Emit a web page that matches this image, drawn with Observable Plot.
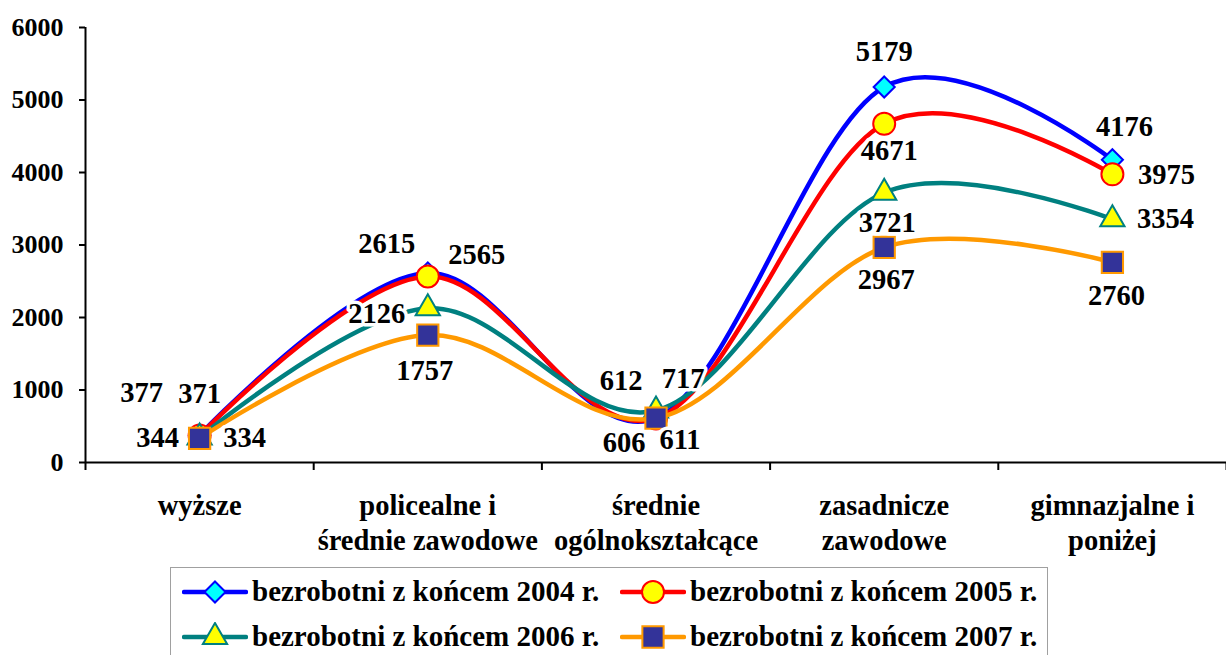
<!DOCTYPE html>
<html>
<head>
<meta charset="utf-8">
<script src="https://cdn.jsdelivr.net/npm/d3@7"></script>
<script src="https://cdn.jsdelivr.net/npm/@observablehq/plot@0.6"></script>
<style>
  body { margin: 0; background: #fff; font-family: 'Liberation Serif', 'Times New Roman', serif; }
  #chart svg { display: block; }
  #chart svg text { font-family: 'Liberation Serif', 'Times New Roman', serif !important; font-weight: bold; }
  #legend {
    margin-left: 170px; margin-top: 7px; width: 878px; height: 100px;
    border: 1.5px solid #a0a0a0; box-sizing: border-box;
    display: grid; grid-template-columns: 438px 438px; grid-auto-rows: 45px;
    padding-left: 11px; padding-top: 1px;
    font-family: 'Liberation Serif', 'Times New Roman', serif;
    font-weight: bold; font-size: 29px; color: #000;
  }
  .item { display: flex; align-items: center; white-space: nowrap; }
  .item svg { margin-right: 4px; }
</style>
</head>
<body>
<div id="chart"></div>
<div id="legend"></div>
<script>
// ---- data ----
const categories = ["wyższe", "policealne i\nśrednie zawodowe", "średnie\nogólnokształcące", "zasadnicze\nzawodowe", "gimnazjalne i\nponiżej"];
const seriesNames = ["bezrobotni z końcem 2004 r.", "bezrobotni z końcem 2005 r.", "bezrobotni z końcem 2006 r.", "bezrobotni z końcem 2007 r."];
const v2004 = [377, 2615, 612, 5179, 4176];
const v2005 = [371, 2565, 606, 4671, 3975];
const v2006 = [344, 2126, 717, 3721, 3354];
const v2007 = [334, 1757, 611, 2967, 2760];
const yTicks = [0, 1000, 2000, 3000, 4000, 5000, 6000];

// ---- styles ----
const values = [v2004, v2005, v2006, v2007];
const styles = [
  {line: "#0000ff", fill: "#00ffff", symbol: "diamond2", r: 9.5},
  {line: "#ff0000", fill: "#ffff00", symbol: "circle", r: 11},
  {line: "#008080", fill: "#ffff00", symbol: "triangle", r: 9},
  {line: "#ff9900", fill: "#333399", symbol: "square", r: 12}
];
// label offsets (px) per series per category
const labelOffsets = [
  [[-58,-42],[-41,-29],[-35,-37],[0,-35],[12,-33]],
  [[0,-42],[49,-22],[-32,24],[5,27],[54,1]],
  [[-42,0],[-51,6],[27,-32],[3,30],[53,0]],
  [[45,0],[-3,36],[24,22],[2,32],[4,33]]
];

const rows = values.map((vals, s) => vals.map((v, i) => ({s, i, v})));
const font = "Liberation Serif";
const boundaries = d3.range(categories.length + 1).map(k => k - 0.5);

const marks = [
  Plot.ruleY([0], {stroke: "#000", strokeWidth: 2}),
  Plot.ruleX([-0.5], {stroke: "#000", strokeWidth: 2}),
  Plot.axisY({ticks: yTicks, tickSize: 6, tickPadding: 16, label: null, strokeWidth: 2,
    tickFormat: d => String(d), fontSize: 26, fontWeight: "bold", fontFamily: font, fill: "#000"}),
  Plot.axisX({ticks: boundaries, tickSize: 8, strokeWidth: 2, tickFormat: () => "", label: null}),
  Plot.axisX({ticks: d3.range(categories.length), tickSize: 0, tickPadding: 27, label: null,
    tickFormat: i => categories[i], fontSize: 28.5, fontWeight: "bold", fontFamily: font, lineHeight: 1.25, fill: "#000"})
];
rows.forEach((data, s) => {
  const st = styles[s];
  marks.push(Plot.line(data, {x: "i", y: "v", curve: "cardinal", stroke: st.line, strokeWidth: 4.5}));
  marks.push(Plot.dot(data, {x: "i", y: "v", symbol: () => st.symbol, r: st.r, fill: st.fill, stroke: st.line, strokeWidth: 2}));
});
rows.forEach((data, s) => {
  data.forEach((d, i) => {
    const [dx, dy] = labelOffsets[s][i];
    marks.push(Plot.text([d], {x: "i", y: "v", text: d => String(d.v), dx, dy,
      fontSize: 28.5, fontWeight: "bold", fontFamily: font, fill: "#000",
      stroke: "#fff", strokeWidth: 7, paintOrder: "stroke", strokeLinejoin: "round"}));
  });
});

const chart = Plot.plot({
  width: 1226, height: 560,
  marginTop: 27, marginBottom: 98, marginLeft: 85, marginRight: 0,
  x: {type: "linear", domain: [-0.5, categories.length - 0.5], axis: null},
  y: {domain: [0, 6000], axis: null},
  symbol: {type: "identity"},
  style: {fontFamily: "'Liberation Serif', serif", background: "#fff", overflow: "visible"},
  marks
});
document.getElementById("chart").appendChild(chart);

// ---- legend ----
const legend = d3.select("#legend");
const symTypes = {diamond2: d3.symbolDiamond2, circle: d3.symbolCircle, triangle: d3.symbolTriangle, square: d3.symbolSquare};
seriesNames.forEach((name, s) => {
  const st = styles[s];
  const item = legend.append("div").attr("class", "item");
  const svg = item.append("svg").attr("width", 66).attr("height", 30);
  svg.append("line").attr("x1", 2).attr("x2", 64).attr("y1", 15).attr("y2", 15)
    .attr("stroke", st.line).attr("stroke-width", 4.5).attr("stroke-linecap", "round");
  svg.append("path").attr("transform", "translate(33,15)")
    .attr("d", d3.symbol(symTypes[st.symbol], st.r * st.r * Math.PI)())
    .attr("fill", st.fill).attr("stroke", st.line).attr("stroke-width", 2);
  item.append("span").text(name);
});
</script>
</body>
</html>
